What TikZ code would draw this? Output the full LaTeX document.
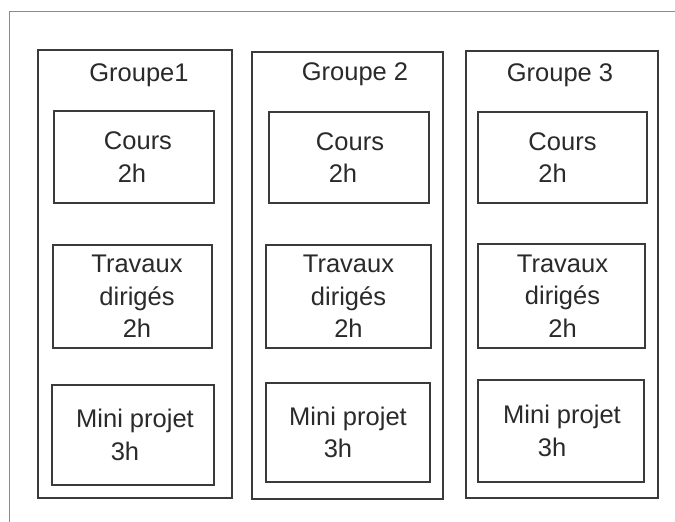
\documentclass[tikz,border=0pt]{standalone}
\usepackage{fontspec}
\setmainfont{Liberation Sans}
\definecolor{linec}{HTML}{3A3A3A}
\definecolor{textc}{HTML}{2A2A2A}
\definecolor{framec}{HTML}{8A8A8A}
\tikzset{
  grp/.style={draw=linec, line width=2pt, rectangle, inner sep=0pt},
  box/.style={draw=linec, line width=2pt, rectangle, inner sep=0pt, align=center,
    text=textc, font=\fontsize{25.5}{32.5}\selectfont},
  ttl/.style={text=textc, font=\fontsize{25.5}{32.5}\selectfont, inner sep=0pt},
  frame/.style={draw=framec, line width=1pt}
}
\begin{document}
\begin{tikzpicture}[x=1pt,y=-1pt]
\useasboundingbox (0,0) rectangle (675,522);
\fill[white] (0,0) rectangle (675,522);
\draw[frame] (9,522) -- (9,11) -- (675,11);

% Groupe 1
\node[grp, minimum width=194pt, minimum height=448pt] (g1) at (135,274) {};
\node[ttl] (g1t) at (139,75) {Groupe1};
\node[box, minimum width=160pt, minimum height=92pt] (g1c) at (134,157)
  {\hspace*{8pt}Cours\\2h\hspace*{4pt}};
\node[box, minimum width=159pt, minimum height=103pt] (g1d) at (132.5,296.5)
  {\hspace*{9pt}Travaux\\\hspace*{9pt}dirigés\\\hspace*{9pt}2h};
\node[box, minimum width=162pt, minimum height=100pt] (g1m) at (133,435)
  {\hspace*{4pt}Mini projet\\3h\hspace*{16pt}};

% Groupe 2
\node[grp, minimum width=191pt, minimum height=447pt] (g2) at (347.5,275.5) {};
\node[ttl] (g2t) at (355,74) {Groupe 2};
\node[box, minimum width=160pt, minimum height=91pt] (g2c) at (349,157.5)
  {\hspace*{2pt}Cours\\2h\hspace*{12pt}};
\node[box, minimum width=165pt, minimum height=103pt] (g2d) at (348.5,296.5)
  {Travaux\\dirigés\\2h};
\node[box, minimum width=164pt, minimum height=99pt] (g2m) at (348,432.5)
  {Mini projet\\3h\hspace*{20pt}};

% Groupe 3
\node[grp, minimum width=192pt, minimum height=447pt] (g3) at (562,274.5) {};
\node[ttl] (g3t) at (560,75) {Groupe 3};
\node[box, minimum width=169pt, minimum height=91pt] (g3c) at (562.5,157.5)
  {Cours\\2h\hspace*{20pt}};
\node[box, minimum width=167pt, minimum height=104pt] (g3d) at (561.5,296)
  {\hspace*{2pt}Travaux\\\hspace*{2pt}dirigés\\\hspace*{2pt}2h};
\node[box, minimum width=166pt, minimum height=102pt] (g3m) at (561,431)
  {\hspace*{2pt}Mini projet\\3h\hspace*{18pt}};
\end{tikzpicture}
\end{document}
